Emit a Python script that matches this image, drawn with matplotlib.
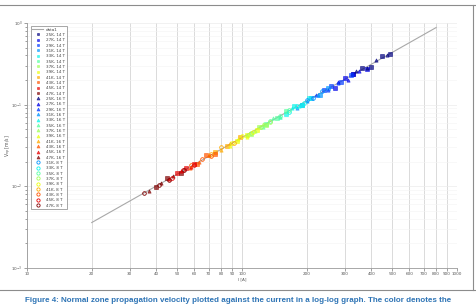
import matplotlib
matplotlib.use("Agg")
import matplotlib.pyplot as plt
from matplotlib.ticker import FixedLocator, NullFormatter, LogLocator

# ---- data ----
fit_current = [20, 800]
fit_velocity = [0.0036, 0.88]

temps_14T = [25, 27, 29, 31, 33, 35, 37, 39, 41, 43, 45, 47]
current_14T = [[330, 360, 400, 450, 490], [270, 300, 330, 380], [240, 260, 290, 320],
               [190, 210, 230, 250], [160, 175, 190, 205], [130, 145, 160],
               [110, 120, 130], [95, 105, 118], [75, 85, 98], [62, 68, 75],
               [50, 55, 60], [40, 45, 52]]
velocity_14T = [[0.24, 0.28, 0.29, 0.39, 0.42], [0.16, 0.21, 0.24, 0.27], [0.15, 0.17, 0.19, 0.23],
                [0.10, 0.12, 0.13, 0.16], [0.076, 0.095, 0.10, 0.12], [0.058, 0.068, 0.083],
                [0.044, 0.054, 0.056], [0.036, 0.043, 0.049], [0.026, 0.031, 0.040], [0.019, 0.024, 0.025],
                [0.0145, 0.017, 0.019], [0.0098, 0.0128, 0.0145]]

temps_16T = [25, 27, 29, 31, 33, 35, 37, 39, 41, 43, 45, 47]
current_16T = [[340, 380, 420, 470], [280, 310, 350], [220, 250, 280], [180, 200, 225],
               [150, 170, 185], [125, 140, 150], [105, 115, 125], [88, 96, 105],
               [70, 80, 88], [57, 63, 70], [46, 52, 58], [37, 42, 48]]
velocity_16T = [[0.26, 0.28, 0.35, 0.40], [0.19, 0.20, 0.26], [0.13, 0.15, 0.185], [0.092, 0.11, 0.13],
                [0.070, 0.091, 0.096], [0.053, 0.068, 0.070], [0.043, 0.047, 0.058], [0.031, 0.038, 0.040],
                [0.024, 0.028, 0.034], [0.017, 0.020, 0.024], [0.0122, 0.0155, 0.0172], [0.0088, 0.011, 0.0135]]

temps_8T = [31, 33, 35, 37, 39, 41, 43, 45, 47]
current_8T = [[200, 215, 235], [165, 180, 195], [135, 150, 165], [110, 122, 135],
              [90, 100, 112], [72, 80, 92], [58, 65, 72], [47, 53, 60], [35, 41, 46, 54]]
velocity_8T = [[0.115, 0.12, 0.145], [0.082, 0.097, 0.105], [0.063, 0.072, 0.085], [0.045, 0.053, 0.061],
               [0.034, 0.041, 0.046], [0.025, 0.030, 0.034], [0.018, 0.0215, 0.0235], [0.0128, 0.0158, 0.018],
               [0.0082, 0.0105, 0.012, 0.0158]]

x_ticks = [10, 20, 30, 40, 50, 60, 70, 80, 90, 100, 200, 300, 400, 500, 600, 700, 800, 900, 1000]

caption = ("Figure 4: Normal zone propagation velocity plotted against the current in a "
           "log-log graph. The color denotes the")


def temp_color(t):
    return plt.cm.jet((t - 25) / 22.0)


fig = plt.figure(figsize=(4.77, 3.07), dpi=100)

# document frame lines around the figure
fig.add_artist(plt.Line2D([0, 475 / 477], [1 - 5 / 307, 1 - 5 / 307], color='#8c8c8c', lw=0.8))
fig.add_artist(plt.Line2D([473 / 477, 473 / 477], [1 - 5 / 307, 1 - 290 / 307], color='#8c8c8c', lw=0.8))
fig.add_artist(plt.Line2D([0, 475 / 477], [1 - 290 / 307, 1 - 290 / 307], color='#8c8c8c', lw=0.8))
fig.text(0.5, 1 - 297 / 307, caption, ha='center', va='top', fontsize=5.75,
         color='#2e74b5', fontweight='bold', family='Liberation Sans')

ax = fig.add_axes([27 / 477, 1 - 268 / 307, 430 / 477, 245 / 307])
ax.set_xscale('log')
ax.set_yscale('log')
ax.set_xlim(10, 1000)
ax.set_ylim(1e-3, 1)

ax.plot(fit_current, fit_velocity, color='#a8a8a8', lw=0.8, label='data1', zorder=2)

for t, cur, vel in zip(temps_14T, current_14T, velocity_14T):
    c = temp_color(t)
    ax.plot(cur, vel, ls='none', marker='s', ms=2.2, mec=c, mfc=c, mew=0.5,
            alpha=0.7, label=f'{t}K, 14 T', zorder=3)
for t, cur, vel in zip(temps_16T, current_16T, velocity_16T):
    c = temp_color(t)
    ax.plot(cur, vel, ls='none', marker='^', ms=2.4, mec=c, mfc=c, mew=0.5,
            alpha=0.7, label=f'{t}K, 16 T', zorder=3)
for t, cur, vel in zip(temps_8T, current_8T, velocity_8T):
    c = temp_color(t)
    ax.plot(cur, vel, ls='none', marker='o', ms=2.6, mec=c, mfc='none', mew=0.6,
            label=f'{t}K, 8 T', zorder=3)

ax.xaxis.set_major_locator(FixedLocator(x_ticks))
ax.xaxis.set_minor_locator(FixedLocator([]))
ax.set_xticklabels([str(v) for v in x_ticks])
ax.yaxis.set_major_locator(LogLocator(base=10))
ax.yaxis.set_minor_locator(LogLocator(base=10, subs=range(2, 10)))
ax.yaxis.set_minor_formatter(NullFormatter())

ax.grid(True, axis='x', which='major', color='#d4d4d4', lw=0.6)
ax.grid(True, axis='y', which='major', color='#ececec', lw=0.5)
ax.grid(True, axis='y', which='minor', color='#f4f4f4', lw=0.4)

for side in ['top', 'right']:
    ax.spines[side].set_visible(False)
for side in ['left', 'bottom']:
    ax.spines[side].set_color('#9a9a9a')
    ax.spines[side].set_linewidth(0.6)
ax.tick_params(which='both', labelsize=3.0, colors='#555555', length=2, width=0.4, pad=1.2)
ax.tick_params(which='minor', length=1.2)

ax.set_xlabel('I [A]', fontsize=3.0, color='#555555', labelpad=0.5)
ax.set_ylabel('V$_{np}$ [m/s]', fontsize=3.3, color='#555555')
ax.yaxis.set_label_coords(-0.03, 0.5)

leg = ax.legend(loc='upper left', bbox_to_anchor=(0.005, 0.995), fontsize=3.0,
                labelspacing=0.32, handlelength=2.6, handletextpad=0.7,
                borderpad=0.3, frameon=True, fancybox=False, markerscale=0.9)
leg.get_frame().set_edgecolor('#666666')
leg.get_frame().set_linewidth(0.5)
for txt in leg.get_texts():
    txt.set_color('#444444')

fig.savefig('out.png', dpi=100)
